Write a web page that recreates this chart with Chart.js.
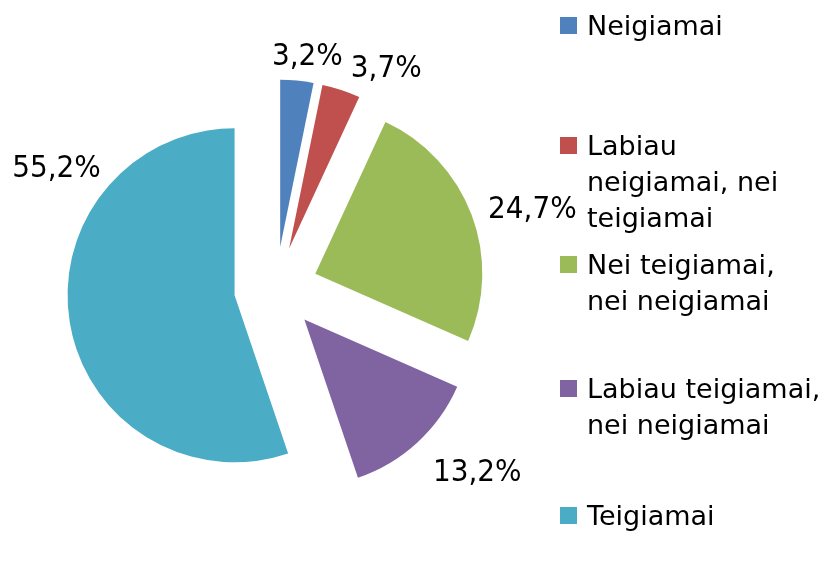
<!DOCTYPE html>
<html lang="lt">
<head>
  <meta charset="UTF-8">
  <title>Vertinimas</title>
  <style>
    body { margin: 0; background: #fff; font-family: 'DejaVu Sans', Verdana, sans-serif; }
    #wrap { position: relative; width: 828px; height: 565px; overflow: hidden; }
    #grafikas { position: absolute; left: 0; top: 0; }
    .leg { position: absolute; left: 560px; font-size: 27px; line-height: 36px; color: #000; }
    .leg i { position: absolute; left: 0; top: 9px; width: 17px; height: 17px; }
    .leg span { display: block; margin-left: 27px; white-space: nowrap; }
  </style>
</head>
<body>
  <div id="wrap">
    <canvas id="grafikas" width="828" height="565"></canvas>
    <div id="legenda"></div>
  </div>
  <script src="https://cdn.jsdelivr.net/npm/chart.js"></script>
  <script>
    // duomenys
    const kategorijos = [
      ['Neigiamai'],
      ['Labiau', 'neigiamai, nei', 'teigiamai'],
      ['Nei teigiamai,', 'nei neigiamai'],
      ['Labiau teigiamai,', 'nei neigiamai'],
      ['Teigiamai']
    ];
    const procentai = [3.2, 3.7, 24.7, 13.2, 55.2];
    const spalvos = ['#4F81BD', '#C0504D', '#9BBB59', '#8064A2', '#4BACC6'];

    // išdėstymas
    const SPINDULYS = 167;
    const ISTUMIMAS = 42;
    const ZYM_DYDIS = 31;
    const zymKampas = [8, 28, 73, 131, 306];   // kampas nuo viršaus, laipsniais
    const zymAtstumas = [28, 40, 60, 62, 53];  // už spindulio
    const legVirsus = [8, 128, 247, 371, 498];

    // išstumti gabalai (vienodas atstumas visiems) + procentų žymės
    const istumtiPlugin = {
      id: 'istumti',
      beforeDatasetDraw(chart, args) {
        const ctx = chart.ctx;
        args.meta.data.forEach(arc => {
          const mid = (arc.startAngle + arc.endAngle) / 2;
          ctx.save();
          ctx.translate(Math.cos(mid) * ISTUMIMAS, Math.sin(mid) * ISTUMIMAS);
          arc.draw(ctx);
          ctx.restore();
        });
        return false;
      },
      afterDatasetsDraw(chart) {
        const ctx = chart.ctx;
        const meta = chart.getDatasetMeta(0);
        ctx.save();
        ctx.font = ZYM_DYDIS + 'px "DejaVu Sans Condensed", "DejaVu Sans"';
        ctx.fillStyle = '#000';
        ctx.textAlign = 'center';
        ctx.textBaseline = 'alphabetic';
        meta.data.forEach((arc, i) => {
          const mid = (arc.startAngle + arc.endAngle) / 2;
          const vx = arc.x + Math.cos(mid) * ISTUMIMAS;
          const vy = arc.y + Math.sin(mid) * ISTUMIMAS;
          const a = zymKampas[i] * Math.PI / 180;
          const d = arc.outerRadius + zymAtstumas[i];
          const txt = procentai[i].toFixed(1).replace('.', ',') + '%';
          ctx.fillText(txt, vx + Math.sin(a) * d, vy - Math.cos(a) * d + ZYM_DYDIS * 0.36);
        });
        ctx.restore();
      }
    };

    new Chart(document.getElementById('grafikas'), {
      type: 'pie',
      data: {
        labels: kategorijos.map(k => k.join(' ')),
        datasets: [{
          data: procentai,
          backgroundColor: spalvos,
          borderWidth: 0,
          radius: SPINDULYS
        }]
      },
      options: {
        responsive: false,
        animation: false,
        layout: { padding: { left: 0, right: 276, top: 12, bottom: 0 } },
        plugins: { legend: { display: false }, tooltip: { enabled: false } }
      },
      plugins: [istumtiPlugin]
    });

    // legenda
    let html = '';
    kategorijos.forEach((k, i) => {
      html += `<div class="leg" style="top:${legVirsus[i]}px"><i style="background:${spalvos[i]}"></i>` +
        k.map(l => `<span>${l}</span>`).join('') + `</div>`;
    });
    document.getElementById('legenda').innerHTML = html;
  </script>
</body>
</html>
